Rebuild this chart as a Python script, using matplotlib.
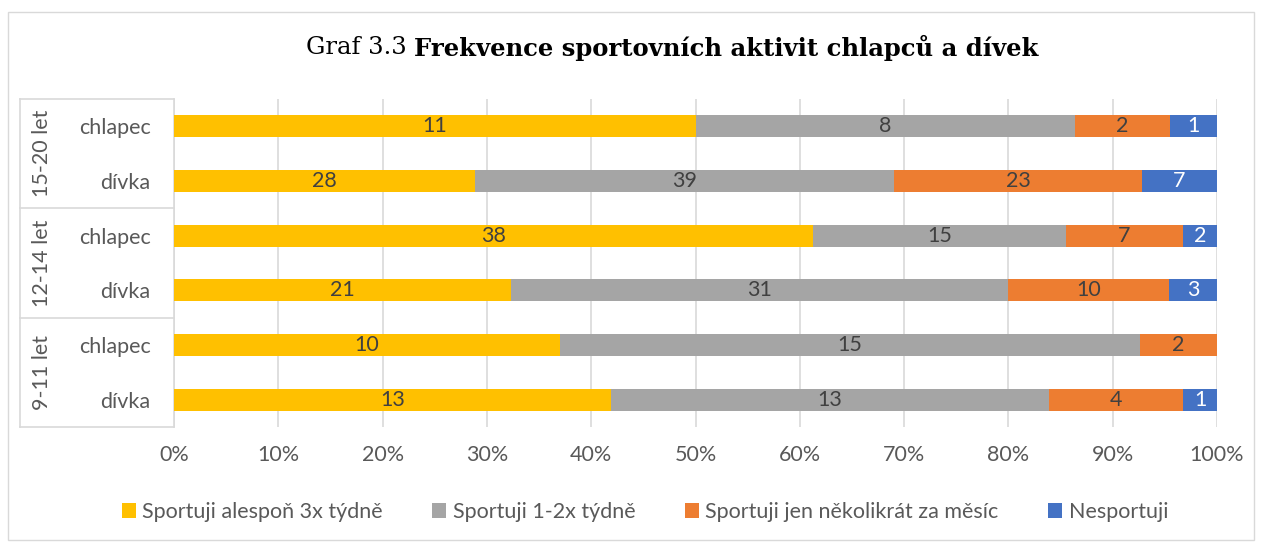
import matplotlib.pyplot as plt
import numpy as np

groups = ["15-20 let", "12-14 let", "9-11 let"]
rows = ["chlapec", "dívka", "chlapec", "dívka", "chlapec", "dívka"]
series = ["Sportuji alespoň 3x týdně", "Sportuji 1-2x týdně",
          "Sportuji jen několikrát za měsíc", "Nesportuji"]
counts_3x = [11, 28, 38, 21, 10, 13]
counts_12x = [8, 39, 15, 31, 15, 13]
counts_month = [2, 23, 7, 10, 2, 4]
counts_none = [1, 7, 2, 3, 0, 1]
colors = ["#FFC000", "#A5A5A5", "#ED7D31", "#4472C4"]
text_colors = ["#404040", "#404040", "#404040", "white"]

plt.rcParams['font.family'] = ['Lato', 'DejaVu Sans']
fs = 15.5

data = np.array([counts_3x, counts_12x, counts_month, counts_none], dtype=float)
totals = data.sum(axis=0)
shares = data / totals

fig = plt.figure(figsize=(12.62, 5.44), dpi=100)
ax = fig.add_axes([174 / 1262, 1 - 427 / 544, (1217 - 174) / 1262, 328 / 544])

y = np.arange(len(rows))
left = np.zeros(len(rows))
for i, name in enumerate(series):
    ax.barh(y, shares[i], left=left, height=0.4, color=colors[i], label=name, zorder=3)
    for j in range(len(rows)):
        if data[i, j] > 0:
            ax.text(left[j] + shares[i, j] / 2, y[j], str(int(data[i, j])),
                    ha='center', va='center', fontsize=fs, color=text_colors[i], zorder=4)
    left += shares[i]

ax.set_xlim(0, 1)
ax.set_ylim(len(rows) - 0.5, -0.5)
ax.set_xticks(np.arange(0, 1.01, 0.1))
ax.set_xticklabels([f"{int(round(v * 100))}%" for v in np.arange(0, 1.01, 0.1)])
ax.set_yticks(y)
ax.set_yticklabels(rows)
ax.tick_params(axis='both', length=0, labelsize=fs, labelcolor='#595959')
ax.tick_params(axis='y', pad=17)
ax.tick_params(axis='x', pad=13)
ax.grid(axis='x', color='#D9D9D9', linewidth=1.2, zorder=0)
for s in ['top', 'right', 'bottom']:
    ax.spines[s].set_visible(False)
ax.spines['left'].set_color('#D9D9D9')
ax.spines['left'].set_linewidth(1.2)

# category box on the left
bx = (20 - 174) / 1043
line_kw = dict(color='#D9D9D9', linewidth=1.2, transform=ax.transAxes, clip_on=False)
ax.plot([bx, bx], [0, 1], **line_kw)
for k in range(len(groups) + 1):
    yy = 1 - k / len(groups)
    ax.plot([bx, 0], [yy, yy], **line_kw)
for k, g in enumerate(groups):
    ax.text((42 - 174) / 1043, 1 - (k + 0.5) / len(groups), g, rotation=90,
            ha='center', va='center', fontsize=fs, color='#595959', transform=ax.transAxes)

# figure border
fig.patches.append(plt.Rectangle((8 / 1262, 4 / 544), 1246 / 1262, 528 / 544,
                                 transform=fig.transFigure, fill=False,
                                 edgecolor='#D9D9D9', linewidth=1))

# title in two parts
t1 = fig.text(0.5, 1 - 48 / 544, "Graf 3.3 ", fontsize=17.5, family='DejaVu Serif',
              ha='left', va='center', color='black')
t2 = fig.text(0.5, 1 - 48 / 544, "Frekvence sportovních aktivit chlapců a dívek",
              fontsize=17.5, family='DejaVu Serif', weight='bold', ha='left', va='center')
fig.canvas.draw()
r = fig.canvas.get_renderer()
w1 = t1.get_window_extent(r).width
w2 = t2.get_window_extent(r).width
x0 = (672 - (w1 + w2) / 2) / 1262
t1.set_x(x0)
t2.set_x(x0 + w1 / 1262)

fig.legend(loc='center', bbox_to_anchor=(645 / 1262, 1 - 512 / 544), ncol=4, frameon=False,
           fontsize=fs, handlelength=0.65, handleheight=0.65, handletextpad=0.3,
           columnspacing=2.3, labelcolor='#595959')

plt.savefig("out.png", dpi=100)
